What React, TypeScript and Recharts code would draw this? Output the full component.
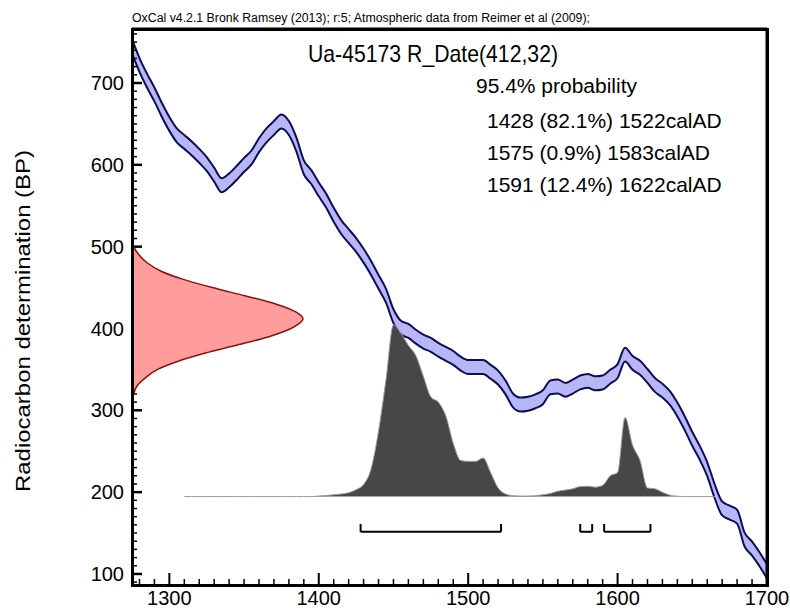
import React from "react";
import { ComposedChart, Area, Scatter, XAxis, YAxis, ReferenceLine } from "recharts";

// OxCal calibration plot: Ua-45173 R_Date(412,32)

const W = 790;
const H = 611;
const FONT = '"Liberation Sans", Arial, Helvetica, sans-serif';
const MARGIN = { top: 29, right: 23, left: 0, bottom: 0 };
const Y_AXIS_W = 132;
const X_AXIS_H = 26;
const PLOT_W = W - Y_AXIS_W - MARGIN.right;
const PLOT_H = H - MARGIN.top - X_AXIS_H;

const xDomain = [1275, 1700];
const yDomain = [86.5, 766];
const probDomain = [-0.515, 2.723];
const densityDomain = [0, 3.713];

const xMajorTicks = [1300, 1400, 1500, 1600, 1700];
const yMajorTicks = [100, 200, 300, 400, 500, 600, 700];
const xMinorTicks = Array.from({ length: 43 }, (_, i) => 1280 + i * 10);
const yMinorTicks = Array.from({ length: 68 }, (_, i) => 90 + i * 10);

// calibration curve (IntCal09), 5-year grid
const curveYears = Array.from({ length: 86 }, (_, i) => 1275 + i * 5);
const curveBP = [
  745, 722, 703, 686, 667, 650, 636, 628, 620, 611, 601, 588, 575, 581, 590, 600, 609, 624, 636, 645,
  653, 645, 625, 597, 585, 570, 556, 539, 524, 513, 502, 489, 474, 457, 440, 415, 401, 397, 390, 384,
  380, 374, 369, 364, 357, 353, 353, 353, 347, 340, 328, 312, 307, 308, 311, 316, 328, 329, 325, 329,
  334, 336, 333, 334, 341, 348, 368, 358, 352, 342, 331, 324, 315, 301, 284, 265, 248, 228, 201, 180,
  175, 170, 142, 131, 118, 103,
];
const curveError = 8.5;

// calibrated probability, 1310..1665
const probYears = Array.from({ length: 72 }, (_, i) => 1310 + i * 5);
const probValues = [
  0, 0, 0, 0, 0, 0, 0, 0, 0, 0, 0, 0, 0, 0, 0, 0, 0, 0,
  0.003, 0.006, 0.01, 0.015, 0.022, 0.04, 0.07, 0.16, 0.38, 0.68, 1.0, 0.95, 0.88, 0.82, 0.7, 0.58,
  0.55, 0.47, 0.31, 0.21, 0.205, 0.205, 0.225, 0.14, 0.05, 0.015, 0.005, 0.003, 0.003, 0.005, 0.01,
  0.018, 0.031, 0.038, 0.045, 0.058, 0.06, 0.055, 0.065, 0.12, 0.14, 0.46, 0.3, 0.21, 0.05, 0.045,
  0.025, 0.008, 0.002, 0, 0, 0, 0, 0,
];

// radiocarbon measurement 412 ± 32
const gaussBP = [310, 320, 330, 340, 350, 360, 370, 380, 390, 400, 405, 412, 420, 430, 440, 450, 460, 470, 480, 490, 500, 510];
const gaussDensity = [0, 0.01, 0.03, 0.08, 0.15, 0.27, 0.43, 0.62, 0.8, 0.93, 0.97, 1.0, 0.96, 0.84, 0.66, 0.47, 0.3, 0.17, 0.09, 0.04, 0.01, 0];

const ranges = [
  { from: 1428, to: 1522, pct: "82.1" },
  { from: 1575, to: 1583, pct: "0.9" },
  { from: 1591, to: 1622, pct: "12.4" },
];

const rows = curveYears.map((year, i) => ({
  year,
  band: [curveBP[i] - curveError, curveBP[i] + curveError],
}));
const probRows = probYears.map((year, i) => ({ year, prob: probValues[i] }));
const gaussRows = gaussBP.map((bp, i) => ({ bp, density: gaussDensity[i] }));

const tickFont = { fontSize: 20, fill: "#000", fontFamily: FONT };

// tick lengths (px) expressed in axis units
const bpPerPx = (yDomain[1] - yDomain[0]) / PLOT_H;
const yrPerPx = (xDomain[1] - xDomain[0]) / PLOT_W;

const barY = -0.205;
const tickTop = -0.16;

function seg(key: string, a: any, b: any, width: number, axis = "bp") {
  return (
    <ReferenceLine key={key} yAxisId={axis} ifOverflow="visible" segment={[a, b]} stroke="#000" strokeWidth={width} />
  );
}

export default function App() {
  const [x0, x1] = xDomain;
  const [y0, y1] = yDomain;
  return (
    <div style={{ position: "absolute", left: 0, top: 0, width: W, height: H, background: "#fff" }}>
      <svg width={W} height={H} style={{ position: "absolute", left: 0, top: 0 }} fontFamily={FONT} fill="#000">
        <text x={132} y={22} fontSize={12} textLength={458} lengthAdjust="spacingAndGlyphs">
          OxCal v4.2.1 Bronk Ramsey (2013); r:5; Atmospheric data from Reimer et al (2009);
        </text>
        <text x={308} y={62} fontSize={24} textLength={250} lengthAdjust="spacingAndGlyphs">
          Ua-45173 R_Date(412,32)
        </text>
        <text x={476} y={93} fontSize={20} textLength={161} lengthAdjust="spacingAndGlyphs">
          95.4% probability
        </text>
        {ranges.map((r, i) => (
          <text key={r.from} x={487} y={128 + i * 32} fontSize={21}>
            {`${r.from} (${r.pct}%) ${r.to}calAD`}
          </text>
        ))}
        <text
          transform="rotate(-90)"
          x={-321}
          y={30}
          textAnchor="middle"
          fontSize={20}
          textLength={342}
          lengthAdjust="spacingAndGlyphs"
        >
          Radiocarbon determination (BP)
        </text>
      </svg>

      <div style={{ position: "absolute", left: 0, top: 0 }}>
        <ComposedChart width={W} height={H} data={rows} margin={MARGIN}>
          <XAxis
            type="number"
            dataKey="year"
            domain={xDomain}
            allowDataOverflow
            ticks={xMajorTicks}
            interval={0}
            stroke="#000"
            tickLine={false}
            tickMargin={0}
            tick={tickFont}
            height={X_AXIS_H}
          />
          <XAxis xAxisId="dens" type="number" dataKey="density" domain={densityDomain} allowDataOverflow hide height={0} />
          <YAxis
            yAxisId="bp"
            type="number"
            dataKey="bp"
            domain={yDomain}
            allowDataOverflow
            ticks={yMajorTicks}
            interval={0}
            stroke="#000"
            tickLine={false}
            tickMargin={2}
            tick={tickFont}
            width={Y_AXIS_W}
          />
          <YAxis yAxisId="prob" dataKey="prob" orientation="right" type="number" domain={probDomain} allowDataOverflow hide width={0} />

          {/* measured date, lying on the BP axis */}
          <Scatter
            xAxisId="dens"
            yAxisId="bp"
            data={gaussRows}
            line={{ stroke: "#8a1212", strokeWidth: 1.5, fill: "#ff9c9c" }}
            lineJointType="monotoneY"
            shape={() => <g />}
            isAnimationActive={false}
          />

          {/* calibrated date */}
          <Scatter
            yAxisId="prob"
            data={probRows}
            line={{ stroke: "#9a9a9a", strokeWidth: 1, fill: "#474747" }}
            lineJointType="monotoneX"
            shape={() => <g />}
            isAnimationActive={false}
          />

          <Area
            yAxisId="bp"
            dataKey="band"
            type="monotone"
            fill="#8787f0"
            stroke="#0c0c58"
            strokeWidth={2}
            isAnimationActive={false}
          />

          {/* highest-density ranges */}
          {ranges.map((r) => [
            seg(`${r.from}-a`, { x: r.from, y: tickTop }, { x: r.from, y: barY }, 2, "prob"),
            seg(`${r.from}-b`, { x: r.from, y: barY }, { x: r.to, y: barY }, 2, "prob"),
            seg(`${r.from}-c`, { x: r.to, y: barY }, { x: r.to, y: tickTop }, 2, "prob"),
          ])}

          {/* inward ticks */}
          {xMinorTicks.map((t) =>
            seg(`xt${t}`, { x: t, y: y0 }, { x: t, y: y0 + (xMajorTicks.includes(t) ? 12 : 6) * bpPerPx }, xMajorTicks.includes(t) ? 2 : 1.5)
          )}
          {yMinorTicks.map((v) =>
            seg(`yt${v}`, { x: x0, y: v }, { x: x0 + (yMajorTicks.includes(v) ? 10 : 5) * yrPerPx, y: v }, yMajorTicks.includes(v) ? 2.5 : 1.5)
          )}

          {/* frame */}
          <ReferenceLine yAxisId="bp" x={x1} stroke="#000" strokeWidth={3} />
          <ReferenceLine yAxisId="bp" y={y1} stroke="#000" strokeWidth={3} />
        </ComposedChart>
      </div>

      {/* plot frame */}
      <div
        style={{
          position: "absolute",
          left: Y_AXIS_W - 1.5,
          top: MARGIN.top - 1.5,
          width: PLOT_W + 3,
          height: PLOT_H + 3,
          border: "3px solid #000",
          boxSizing: "border-box",
          pointerEvents: "none",
        }}
      />
    </div>
  );
}
